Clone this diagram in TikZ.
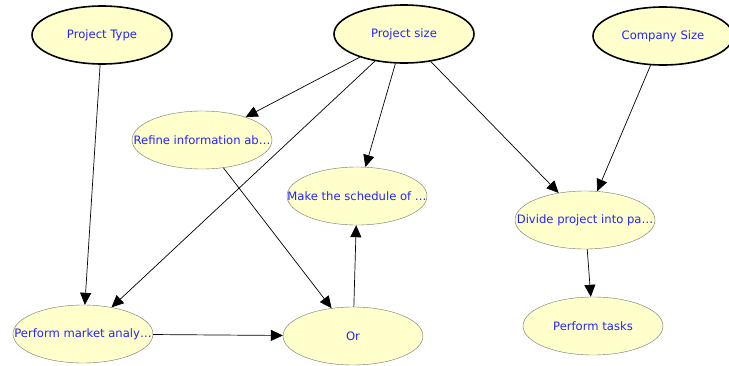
\documentclass[tikz,border=0pt]{standalone}
\usepackage{fontspec}
\setmainfont{DejaVu Sans}
\usetikzlibrary{shapes.geometric,arrows.meta}
\definecolor{goalfill}{RGB}{255,255,204}
\definecolor{goaltext}{RGB}{35,35,255}

\begin{document}
\begin{tikzpicture}[x=1pt,y=-1pt,
	goal/.style={ellipse,draw=black!55,fill=goalfill,text=goaltext,inner xsep=-24pt,inner ysep=0pt,
		minimum width=140pt,minimum height=58pt,font=\fontsize{11.6}{13}\selectfont},
	root/.style={goal,draw=black,line width=1.6pt},
	link/.style={-{Triangle[length=12pt,width=11pt]},line width=0.7pt}]
	\useasboundingbox (0,0) rectangle (729,365);
	
	%top level
	\node[root] (ptype) at (102,35) {Project Type};
	\node[root] (psize) at (404,34) {Project size};
	\node[root] (csize) at (663,36) {Company Size};
	
	%sub goals
	\node[goal] (refine) at (202,140) {Refine information ab\dots};
	\node[goal] (sched) at (357,196) {Make the schedule of \dots};
	\node[goal] (divide) at (585,220) {Divide project into pa\dots};
	\node[goal] (tasks) at (593,326) {Perform tasks};
	\node[goal] (market) at (83,334) {Perform market analy\dots};
	\node[goal] (orgoal) at (353,336) {Or};
	
	%links
	\draw[link] (ptype) -- (market);
	\draw[link] (psize) -- (refine);
	\draw[link] (psize) -- (market);
	\draw[link] (psize) -- (sched);
	\draw[link] (psize) -- (divide);
	\draw[link] (csize) -- (divide);
	\draw[link] (refine) -- (orgoal);
	\draw[link] (market) -- (orgoal);
	\draw[link] (orgoal) -- (sched);
	\draw[link] (divide) -- (tasks);
\end{tikzpicture}
\end{document}
